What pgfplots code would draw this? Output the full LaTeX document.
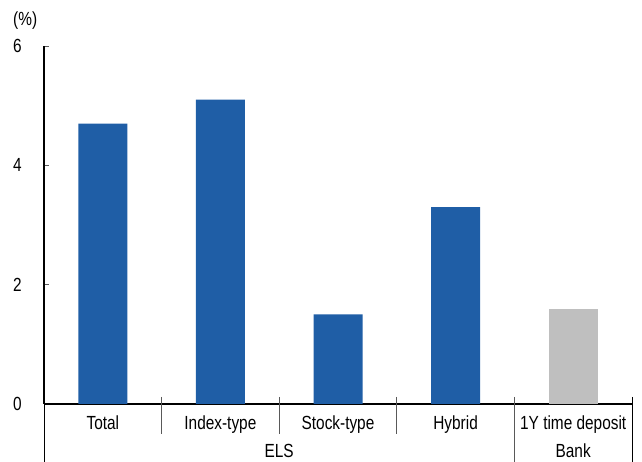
\documentclass[border=0pt]{standalone}
\usepackage{fontspec}
\setmainfont{Liberation Sans}[FakeStretch=0.81]
\usepackage{pgfplots}
\pgfplotsset{compat=1.18}
\definecolor{barblue}{RGB}{31,94,166}
\definecolor{bargrey}{RGB}{191,191,191}
\begin{document}
\fontsize{19}{22}\selectfont
\begin{tikzpicture}[x=1pt,y=1pt]
\path[use as bounding box] (0,0) rectangle (642,462);
\begin{axis}[
  at={(44pt,58pt)}, anchor=south west,
  scale only axis, width=588pt, height=358pt,
  xmin=-0.5, xmax=4.5, ymin=0, ymax=6,
  axis x line*=bottom, axis y line*=left,
  axis line style={line width=1.6pt, -},
  ytick={0,2,4,6},
  ytick style={line width=0.8pt, gray!70!black},
  tick align=inside, major tick length=5pt,
  yticklabel style={anchor=west, inner sep=0pt, xshift=-31pt},
  /pgf/number format/assume math mode=true,
  xtick={0,1,2,3,4},
  xticklabels={Total,Index-type,Stock-type,Hybrid,1Y time deposit},
  x tick style={draw=none},
  xticklabel style={anchor=center, yshift=-14pt, text height=1.5ex, text depth=0.3ex},
  ybar, bar width=49pt, bar shift=0pt,
  clip=false,
]
\addplot[fill=barblue, draw=none] coordinates {(0,4.7) (1,5.1) (2,1.5) (3,3.3)};
\addplot[fill=bargrey, draw=none] coordinates {(4,1.6)};
\draw[line width=0.8pt, gray!70!black] (axis cs:0.5,0) ++(0pt,7pt) -- ++(0pt,-37pt);
\draw[line width=0.8pt, gray!70!black] (axis cs:1.5,0) ++(0pt,7pt) -- ++(0pt,-37pt);
\draw[line width=0.8pt, gray!70!black] (axis cs:2.5,0) ++(0pt,7pt) -- ++(0pt,-37pt);
\draw[line width=0.8pt, gray!70!black] (axis cs:3.5,0) ++(0pt,7pt) -- ++(0pt,-65pt);
\draw[line width=0.8pt, black] (axis cs:4.5,0) ++(0pt,7pt) -- ++(0pt,-65pt);
\draw[line width=0.8pt, black] (axis cs:-0.5,0) -- ++(0pt,-58pt);
\node[anchor=center, text height=1.5ex, text depth=0.3ex] at (axis cs:1.5,0) [yshift=-47pt] {ELS};
\node[anchor=center, text height=1.5ex, text depth=0.3ex] at (axis cs:4,0) [yshift=-47pt] {Bank};
\node[anchor=west, inner sep=0pt] at (rel axis cs:0,1) [xshift=-31pt, yshift=25pt] {(\%)};
\end{axis}
\end{tikzpicture}
\end{document}
